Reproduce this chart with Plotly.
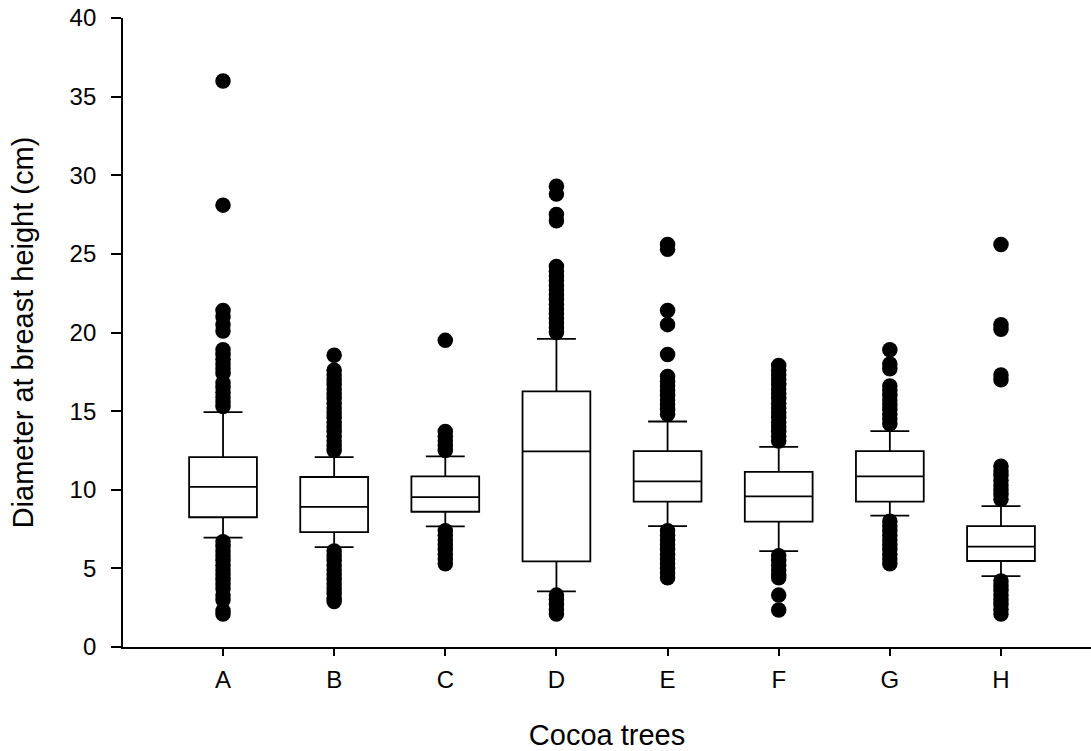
import plotly.graph_objects as go

categories = ["A", "B", "C", "D", "E", "F", "G", "H"]
positions = [1, 2, 3, 4, 5, 6, 7, 8]

q1 = [8.25, 7.3, 8.6, 5.44, 9.24, 7.97, 9.24, 5.47]
median = [10.18, 8.91, 9.53, 12.44, 10.53, 9.58, 10.85, 6.38]
q3 = [12.08, 10.81, 10.85, 16.25, 12.46, 11.14, 12.46, 7.69]
lower_whisker = [6.96, 6.35, 7.67, 3.54, 7.69, 6.1, 8.35, 4.51]
upper_whisker = [14.94, 12.08, 12.12, 19.6, 14.34, 12.73, 13.73, 8.96]

outliers = {
    "A": [36.0, 28.1, 21.4, 21.0, 20.5, 20.1, 18.9, 18.6, 18.3, 18.0, 17.7, 17.4,
          16.8, 16.5, 16.2, 15.9, 15.6, 15.3,
          6.7, 6.4, 6.1, 5.8, 5.5, 5.2, 4.9, 4.6, 4.3, 4.0, 3.7, 3.3, 3.0, 2.3, 2.1],
    "B": [18.55, 17.6, 17.3, 17.0, 16.7, 16.4, 16.1, 15.8, 15.5, 15.2, 14.9, 14.6,
          14.3, 14.0, 13.7, 13.4, 13.1, 12.8, 12.5,
          6.1, 5.8, 5.5, 5.2, 4.9, 4.6, 4.3, 4.0, 3.7, 3.4, 3.1, 2.9],
    "C": [19.5, 13.7, 13.4, 13.1, 12.8, 12.5,
          7.4, 7.1, 6.8, 6.5, 6.2, 5.9, 5.6, 5.3],
    "D": [29.3, 28.8, 27.5, 27.1, 24.2, 23.9, 23.6, 23.3, 23.0, 22.7, 22.4, 22.1,
          21.8, 21.5, 21.2, 20.9, 20.6, 20.3, 20.0,
          3.3, 3.0, 2.7, 2.4, 2.1],
    "E": [25.6, 25.3, 21.4, 20.5, 18.6, 17.2, 16.9, 16.6, 16.3, 16.0, 15.7, 15.4,
          15.1, 14.8,
          7.4, 7.1, 6.8, 6.5, 6.2, 5.9, 5.6, 5.3, 5.0, 4.7, 4.4],
    "F": [17.9, 17.6, 17.3, 17.0, 16.7, 16.4, 16.1, 15.8, 15.5, 15.2, 14.9, 14.6,
          14.3, 14.0, 13.7, 13.4, 13.1,
          5.8, 5.5, 5.2, 4.9, 4.6, 4.4, 3.3, 2.35],
    "G": [18.9, 18.0, 17.7, 16.6, 16.3, 16.0, 15.7, 15.4, 15.1, 14.8, 14.5, 14.2,
          8.0, 7.7, 7.4, 7.1, 6.8, 6.5, 6.2, 5.9, 5.6, 5.3],
    "H": [25.6, 20.5, 20.2, 17.3, 17.0, 11.5, 11.2, 10.9, 10.6, 10.3, 10.0, 9.7, 9.4,
          4.2, 3.9, 3.6, 3.3, 3.0, 2.7, 2.4, 2.1],
}

BOX_WIDTH = 0.61
CAP_HALF = 0.175
LW = 1.8
FONT = "Liberation Sans, Arial, sans-serif"

fig = go.Figure()

fig.add_trace(go.Box(
    x=positions,
    q1=q1, median=median, q3=q3,
    lowerfence=lower_whisker, upperfence=upper_whisker,
    width=BOX_WIDTH,
    fillcolor="white",
    line=dict(color="black", width=LW),
    boxpoints=False,
    whiskerwidth=0,
    showlegend=False,
    hoverinfo="skip",
))

# whisker caps
cap_x, cap_y = [], []
for p, lo, hi in zip(positions, lower_whisker, upper_whisker):
    for v in (lo, hi):
        cap_x += [p - CAP_HALF, p + CAP_HALF, None]
        cap_y += [v, v, None]
fig.add_trace(go.Scatter(
    x=cap_x, y=cap_y, mode="lines",
    line=dict(color="black", width=LW),
    showlegend=False, hoverinfo="skip",
))

# outliers
ox, oy = [], []
for p, c in zip(positions, categories):
    for v in outliers[c]:
        ox.append(p)
        oy.append(v)
fig.add_trace(go.Scatter(
    x=ox, y=oy, mode="markers",
    marker=dict(color="black", size=15.5, line=dict(width=0)),
    showlegend=False,
))

fig.update_layout(
    width=1091, height=751,
    margin=dict(l=123, r=0, t=18, b=104, autoexpand=False),
    paper_bgcolor="white", plot_bgcolor="white",
    font=dict(family=FONT, color="black"),
    showlegend=False,
    xaxis=dict(
        range=[0.1, 8.81],
        automargin=False,
        tickmode="array", tickvals=positions, ticktext=categories,
        showline=True, linecolor="black", linewidth=LW,
        ticks="outside", ticklen=7, tickwidth=LW, tickcolor="black",
        ticklabelstandoff=3,
        ticklabeloverflow="allow",
        showgrid=False, zeroline=False,
        tickfont=dict(size=24, family=FONT),
        title=dict(text="Cocoa trees", font=dict(size=29, family=FONT), standoff=35),
    ),
    yaxis=dict(
        range=[0, 40],
        automargin=False,
        tickmode="array", tickvals=[0, 5, 10, 15, 20, 25, 30, 35, 40],
        showline=True, linecolor="black", linewidth=LW,
        ticks="outside", ticklen=10, tickwidth=LW, tickcolor="black",
        ticklabelstandoff=10,
        ticklabeloverflow="allow",
        showgrid=False, zeroline=False,
        tickfont=dict(size=24, family=FONT),
        title=dict(text="Diameter at breast height (cm)", font=dict(size=29, family=FONT), standoff=27),
    ),
)

fig.write_html(
    "out.html",
    config={"displayModeBar": False},
    post_script="document.body.style.margin='0';document.body.style.overflow='hidden';",
)
